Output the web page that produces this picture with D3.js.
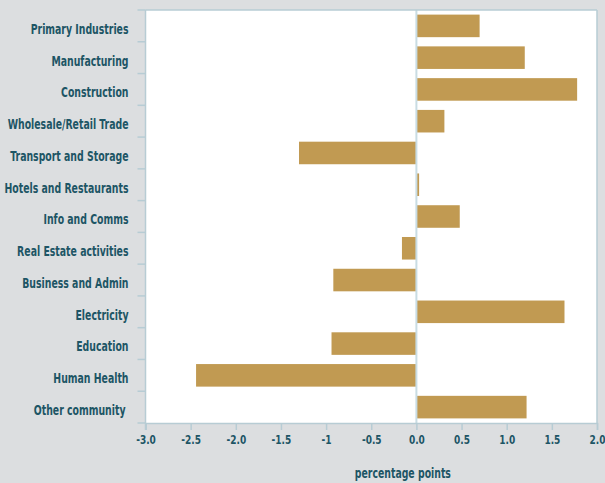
<!DOCTYPE html>
<html>
<head>
<meta charset="utf-8">
<script src="https://cdn.jsdelivr.net/npm/d3@7"></script>
<style>
  body { margin: 0; background: #dcdee0; }
  svg { display: block; }
  text { font-family: "DejaVu Sans Condensed", "DejaVu Sans", sans-serif; font-stretch: condensed; font-weight: bold; fill: #1d5565; }
</style>
</head>
<body>
<div id="chart"></div>
<script>
// Sektoren und Werte (percentage points)
const sectors = ["Primary Industries", "Manufacturing", "Construction", "Wholesale/Retail Trade",
    "Transport and Storage", "Hotels and Restaurants", "Info and Comms", "Real Estate activities",
    "Business and Admin", "Electricity", "Education", "Human Health", "Other community"];
const values = [0.70, 1.20, 1.78, 0.31, -1.30, 0.03, 0.48, -0.16, -0.92, 1.64, -0.94, -2.44, 1.22];
const xTicks = [-3.0, -2.5, -2.0, -1.5, -1, -0.5, 0.0, 0.5, 1.0, 1.5, 2.0];
const xTickLabels = ["-3.0", "-2.5", "-2.0", "-1.5", "-1", "-0.5", "0.0", "0.5", "1.0", "1.5", "2.0"];

const W = 605, H = 483;
const margin = {top: 10, right: 8, bottom: 60, left: 145.5};
const width = W - margin.left - margin.right,
    height = H - margin.top - margin.bottom;
const squeeze = 0.77;   // schmale Schrift nachbilden

const svg = d3.select("#chart")
    .append("svg")
    .attr("width", W)
    .attr("height", H);

const g = svg.append("g")
    .attr("transform", `translate(${margin.left},${margin.top})`);

const x = d3.scaleLinear()
    .domain([-3, 2])
    .range([0, width]);

const y = d3.scaleBand()
    .domain(sectors)
    .range([0, height])
    .paddingInner(0.29)
    .paddingOuter(0.145);

// Plotfläche
g.append("rect")
    .attr("x", 0).attr("y", 0)
    .attr("width", width).attr("height", height)
    .attr("fill", "#ffffff");

// Balken
g.selectAll("rect.bar")
    .data(values)
    .enter()
    .append("rect")
    .attr("class", "bar")
    .attr("x", d => x(Math.min(0, d)))
    .attr("width", d => Math.abs(x(d) - x(0)))
    .attr("y", (d, i) => y(sectors[i]))
    .attr("height", y.bandwidth())
    .attr("fill", "#c19a52");

// Nulllinie
g.append("line")
    .attr("x1", x(0)).attr("x2", x(0))
    .attr("y1", 0).attr("y2", height)
    .attr("stroke", "#c9dce3")
    .attr("stroke-width", 2);

// Rahmen oben / rechts
g.append("line")
    .attr("x1", 0).attr("x2", width).attr("y1", 0).attr("y2", 0)
    .attr("stroke", "#b7ccd4").attr("stroke-width", 1.5);
g.append("line")
    .attr("x1", width).attr("x2", width).attr("y1", 0).attr("y2", height)
    .attr("stroke", "#b7ccd4").attr("stroke-width", 1.5);

// X-Achse
const xAxis = d3.axisBottom(x)
    .tickValues(xTicks)
    .tickFormat((d, i) => xTickLabels[i])
    .tickSize(7)
    .tickPadding(5);

const gx = g.append("g")
    .attr("transform", `translate(0, ${height})`)
    .call(xAxis);
gx.select(".domain").attr("stroke", "#b7ccd4").attr("stroke-width", 1.5);
gx.selectAll(".tick line").attr("stroke", "#b7ccd4").attr("stroke-width", 1.5);
gx.selectAll(".tick text")
    .attr("fill", "#1d5565")
    .attr("transform", `scale(${squeeze},1)`)
    .style("font-size", "13px")
    .style("font-family", "'DejaVu Sans Condensed', 'DejaVu Sans', sans-serif")
    .style("font-stretch", "condensed").style("font-weight", "bold");

// Y-Achse: Striche zwischen den Kategorien
const step = y.step();
const yBounds = d3.range(sectors.length + 1).map(i => y(sectors[0]) - y.paddingInner() * step / 2 + i * step);
g.selectAll("line.ytick")
    .data(yBounds)
    .enter()
    .append("line")
    .attr("class", "ytick")
    .attr("x1", -8).attr("x2", 0)
    .attr("y1", d => d).attr("y2", d => d)
    .attr("stroke", "#b7ccd4").attr("stroke-width", 1.5);
g.append("line")
    .attr("x1", 0).attr("x2", 0).attr("y1", 0).attr("y2", height + 7)
    .attr("stroke", "#b7ccd4").attr("stroke-width", 1.5);

// Kategorienamen
g.selectAll("text.cat")
    .data(sectors)
    .enter()
    .append("text")
    .attr("class", "cat")
    .attr("transform", d => `translate(${d === "Other community" ? -20 : -17},${y(d) + y.bandwidth() / 2 + 3}) scale(${squeeze},1)`)
    .attr("dy", "0.36em")
    .style("text-anchor", "end")
    .style("font-size", "13.5px")
    .text(d => d);

// Achsentitel
svg.append("text")
    .attr("transform", `translate(${margin.left + x(-0.15)},478) scale(${squeeze},1)`)
    .style("text-anchor", "middle")
    .style("font-size", "13.5px")
    .text("percentage points");
</script>
</body>
</html>
